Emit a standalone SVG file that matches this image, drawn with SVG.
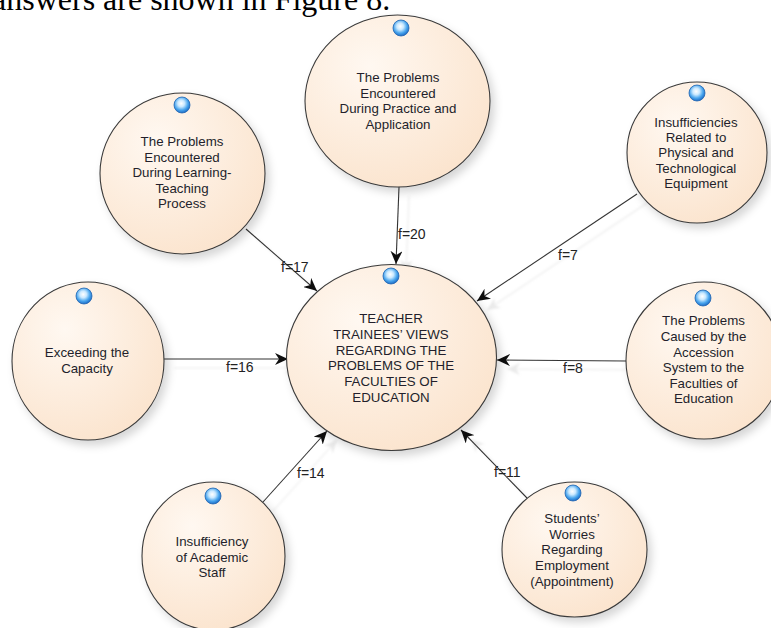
<svg xmlns="http://www.w3.org/2000/svg" width="771" height="628" viewBox="0 0 771 628">
<style>
.node{fill:url(#peach);stroke:#3a3a3a;stroke-width:1.1;filter:url(#shadow)}
.dot{fill:url(#blue);stroke:#1f63b0;stroke-width:0.8}
.t{font-family:"Liberation Sans",Arial,sans-serif;font-size:13.3px;fill:#231f2b;text-anchor:middle}
.lbl{font-family:"Liberation Sans",Arial,sans-serif;font-size:14px;fill:#222}
.edge{stroke:#333;stroke-width:1.1;fill:none;marker-end:url(#arr)}
.head{font-family:"Liberation Serif","Times New Roman",serif;font-size:32px;fill:#000}
</style>
<defs>
<radialGradient id="peach" cx="35%" cy="30%" r="75%">
<stop offset="0" stop-color="#fff8f1"/>
<stop offset="1" stop-color="#fbe4ce"/>
</radialGradient>
<radialGradient id="blue" cx="45%" cy="40%" r="60%">
<stop offset="0" stop-color="#ffffff"/>
<stop offset="0.35" stop-color="#cbe9ff"/>
<stop offset="0.7" stop-color="#4aa6ee"/>
<stop offset="1" stop-color="#1d6cc6"/>
</radialGradient>
<filter id="shadow" x="-20%" y="-20%" width="150%" height="150%">
<feDropShadow dx="4" dy="5" stdDeviation="4" flood-color="#000" flood-opacity="0.16"/>
</filter>
<filter id="lshadow" x="-20%" y="-20%" width="150%" height="150%">
<feDropShadow dx="10" dy="9" stdDeviation="1.2" flood-color="#bbb" flood-opacity="0.3"/>
</filter>
<marker id="arr" viewBox="0 0 14 12" refX="13" refY="6" markerWidth="14" markerHeight="12" markerUnits="userSpaceOnUse" orient="auto">
<path d="M0,0 L13,6 L0,12 L4,6 z" fill="#111"/>
</marker>
</defs>
<rect width="771" height="628" fill="#fff"/>
<text class="head" x="-8" y="10">answers are shown in Figure 8.</text>

<g id="connectors">
<g filter="url(#lshadow)">
<line class="edge" x1="399" y1="187" x2="396" y2="264"/>
<line class="edge" x1="246" y1="229" x2="317" y2="291"/>
<line class="edge" x1="637" y1="194" x2="477" y2="301"/>
<line class="edge" x1="626" y1="361" x2="497" y2="360"/>
<line class="edge" x1="527" y1="498" x2="461" y2="430"/>
<line class="edge" x1="263" y1="502" x2="327" y2="431"/>
<line class="edge" x1="164" y1="359" x2="288" y2="359"/>
</g>
<text class="lbl" x="398" y="239">f=20</text>
<text class="lbl" x="281" y="272">f=17</text>
<text class="lbl" x="558" y="260">f=7</text>
<text class="lbl" x="563" y="373">f=8</text>
<text class="lbl" x="226" y="372">f=16</text>
<text class="lbl" x="297" y="478">f=14</text>
<text class="lbl" x="494" y="477">f=11</text>
</g>

<g id="node-center">
<ellipse class="node" cx="391.5" cy="357.5" rx="105" ry="93"/>
<circle class="dot" cx="391" cy="276" r="8"/>
<text class="t" x="391" y="323">TEACHER</text>
<text class="t" x="391" y="339">TRAINEES’ VIEWS</text>
<text class="t" x="391" y="354.5">REGARDING THE</text>
<text class="t" x="391" y="370">PROBLEMS OF THE</text>
<text class="t" x="391" y="386">FACULTIES OF</text>
<text class="t" x="391" y="401.5">EDUCATION</text>
</g>

<g id="node-practice">
<ellipse class="node" cx="397.5" cy="101" rx="92.5" ry="86"/>
<circle class="dot" cx="401" cy="28" r="8"/>
<text class="t" x="398" y="82">The Problems</text>
<text class="t" x="398" y="97.6">Encountered</text>
<text class="t" x="398" y="113.2">During Practice and</text>
<text class="t" x="398" y="128.8">Application</text>
</g>

<g id="node-learning">
<ellipse class="node" cx="182.5" cy="173.5" rx="82.5" ry="80.5"/>
<circle class="dot" cx="182" cy="105" r="8"/>
<text class="t" x="182" y="146">The Problems</text>
<text class="t" x="182" y="161.5">Encountered</text>
<text class="t" x="182" y="177">During Learning-</text>
<text class="t" x="182" y="192.5">Teaching</text>
<text class="t" x="182" y="208.3">Process</text>
</g>

<g id="node-equipment">
<ellipse class="node" cx="697" cy="152.5" rx="70" ry="70.5"/>
<circle class="dot" cx="697" cy="93" r="8"/>
<text class="t" x="696" y="126.7">Insufficiencies</text>
<text class="t" x="696" y="142">Related to</text>
<text class="t" x="696" y="157.3">Physical and</text>
<text class="t" x="696" y="172.7">Technological</text>
<text class="t" x="696" y="188.3">Equipment</text>
</g>

<g id="node-accession">
<ellipse class="node" cx="704" cy="360.5" rx="78" ry="78.5"/>
<circle class="dot" cx="703" cy="298" r="8"/>
<text class="t" x="703.5" y="325">The Problems</text>
<text class="t" x="703.5" y="341">Caused by the</text>
<text class="t" x="703.5" y="356.7">Accession</text>
<text class="t" x="703.5" y="372.3">System to the</text>
<text class="t" x="703.5" y="387.8">Faculties of</text>
<text class="t" x="703.5" y="403.3">Education</text>
</g>

<g id="node-employment">
<ellipse class="node" cx="574.5" cy="549.5" rx="72.5" ry="67.5"/>
<circle class="dot" cx="573" cy="493" r="8"/>
<text class="t" x="572" y="523.3">Students’</text>
<text class="t" x="572" y="538.5">Worries</text>
<text class="t" x="572" y="554">Regarding</text>
<text class="t" x="572" y="570">Employment</text>
<text class="t" x="572" y="586">(Appointment)</text>
</g>

<g id="node-staff">
<ellipse class="node" cx="213.5" cy="556" rx="71.5" ry="74"/>
<circle class="dot" cx="213" cy="496" r="8"/>
<text class="t" x="212" y="546">Insufficiency</text>
<text class="t" x="212" y="561.7">of Academic</text>
<text class="t" x="212" y="577.3">Staff</text>
</g>

<g id="node-capacity">
<ellipse class="node" cx="88" cy="361" rx="76" ry="79"/>
<circle class="dot" cx="84" cy="296" r="8"/>
<text class="t" x="87" y="357.3">Exceeding the</text>
<text class="t" x="87" y="372.7">Capacity</text>
</g>
</svg>
